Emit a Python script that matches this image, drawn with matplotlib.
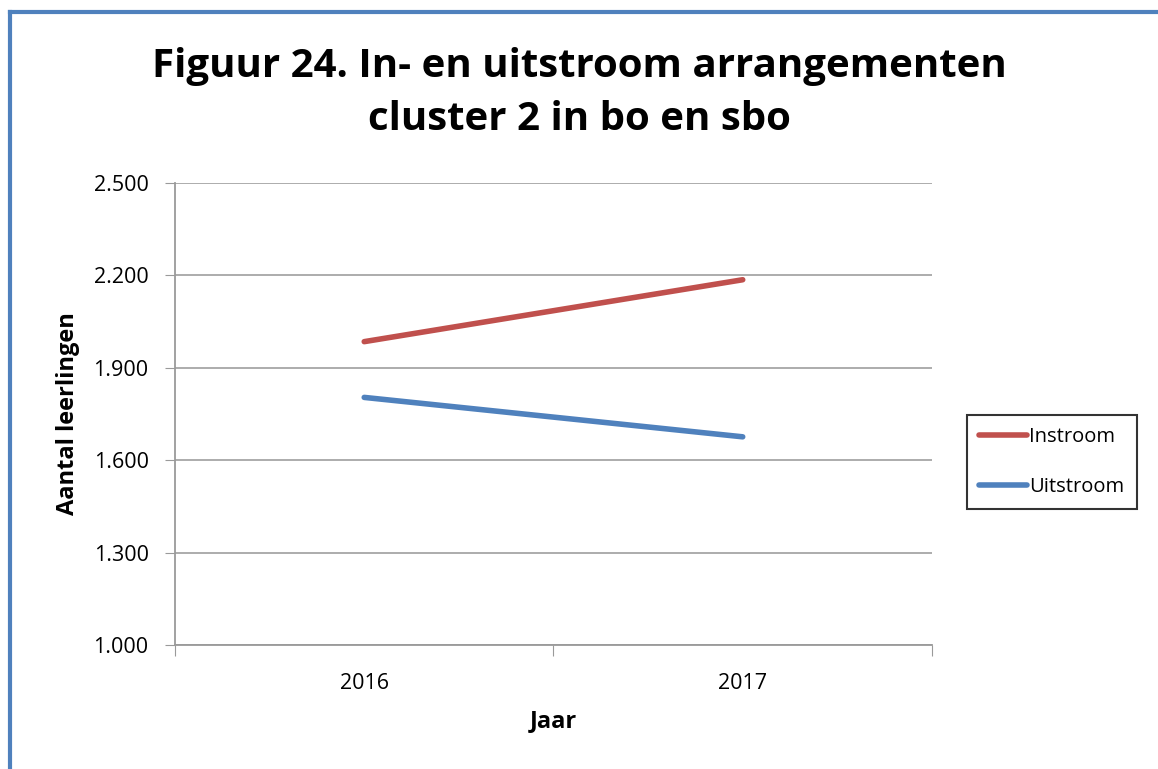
import matplotlib
matplotlib.use("Agg")
import matplotlib.pyplot as plt
from matplotlib.lines import Line2D

plt.rcParams['font.family'] = ['Open Sans', 'DejaVu Sans']

jaren = ['2016', '2017']
instroom = [1985, 2186]
uitstroom = [1804, 1676]
y_ticks = [1000, 1300, 1600, 1900, 2200, 2500]
y_labels = ['1.000', '1.300', '1.600', '1.900', '2.200', '2.500']

rood = '#C0504D'
blauw = '#4F81BD'

fig = plt.figure(figsize=(11.58, 7.69), dpi=100)
ax = fig.add_axes([0.1511, 0.1612, 0.6537, 0.6008])

x = [0.5, 1.5]
ax.plot(x, instroom, color=rood, lw=4, solid_capstyle='round', label='Instroom')
ax.plot(x, uitstroom, color=blauw, lw=4, solid_capstyle='round', label='Uitstroom')

ax.set_xlim(0, 2)
ax.set_ylim(1000, 2500)
ax.set_yticks(y_ticks)
ax.set_yticklabels(y_labels, fontsize=15.5)
ax.set_xticks([0, 1, 2])
ax.set_xticklabels([])
ax.set_xticks(x, minor=True)
ax.set_xticklabels(jaren, minor=True, fontsize=15.5)
ax.tick_params(axis='x', which='minor', length=0, pad=20)
ax.tick_params(axis='x', which='major', length=8, color='#9a9a9a', direction='out')
ax.tick_params(axis='y', length=7, color='#9a9a9a', direction='out', pad=12)

ax.grid(axis='y', color='#a6a6a6', lw=1.3)
ax.set_axisbelow(True)
for s in ['top', 'right']:
    ax.spines[s].set_visible(False)
ax.spines['left'].set_color('#9a9a9a')
ax.spines['bottom'].set_color('#9a9a9a')
ax.spines['left'].set_linewidth(1.3)
ax.spines['bottom'].set_linewidth(1.3)

ax.set_xlabel('Jaar', fontsize=17, fontweight='bold', labelpad=11)
ax.set_ylabel('Aantal leerlingen', fontsize=17, fontweight='bold', labelpad=10)

fig.text(0.5, 0.879, 'Figuur 24. In- en uitstroom arrangementen\ncluster 2 in bo en sbo',
         ha='center', va='center', fontsize=29, fontweight='bold', linespacing=1.45)

leg = ax.legend(loc='center left', bbox_to_anchor=(1.033, 0.396), fontsize=14.5,
                frameon=True, fancybox=False, handlelength=2.4, handletextpad=0.1,
                borderpad=0.6, labelspacing=1.5)
leg.get_frame().set_edgecolor('black')
leg.get_frame().set_linewidth(1.5)

# blauwe rand links en boven
fig.add_artist(Line2D([0.0083, 0.0083], [0, 0.985], color=blauw, lw=3, transform=fig.transFigure))
fig.add_artist(Line2D([0.0083, 1], [0.985, 0.985], color=blauw, lw=3, transform=fig.transFigure))

fig.savefig('out.png', dpi=100)
